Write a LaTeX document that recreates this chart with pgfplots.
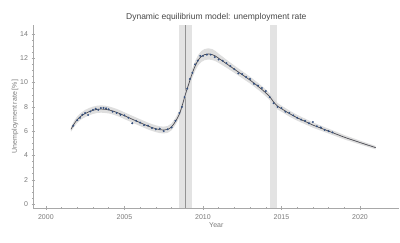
\documentclass[border=0pt]{standalone}
\usepackage{pgfplots}
\pgfplotsset{compat=1.18}
\usepackage{fontspec}
\setmainfont{Liberation Sans}
\definecolor{axgray}{HTML}{A8A8A8}
\definecolor{lblgray}{HTML}{7A7A7A}
\definecolor{bandgray}{HTML}{DADADA}
\definecolor{recgray}{HTML}{E3E3E3}
\definecolor{curvegray}{HTML}{4A4A52}
\definecolor{dotblue}{HTML}{34507F}
\begin{document}
\begin{tikzpicture}
\path[use as bounding box] (-33.3pt,-34pt) rectangle (366.7pt,208pt);
\begin{axis}[
  scale only axis, width=366pt, height=183pt,
  xmin=1999.2, xmax=2022.5, ymin=-0.33, ymax=14.74,
  axis lines*=left,
  axis line style={axgray, line width=0.5pt},
  every tick/.style={axgray, line width=0.4pt},
  tick align=center,
  major tick length=3.5pt, minor tick length=2pt,
  xtick={2000,2005,2010,2015,2020},
  ytick={0,2,4,6,8,10,12,14},
  minor x tick num=4, minor y tick num=3,
  xticklabel style={/pgf/number format/1000 sep={}},
  /pgf/number format/assume math mode=true,
  tick label style={font=\fontsize{7}{8}\selectfont, text=lblgray},
  xticklabel style={yshift=-1pt},
  xlabel={Year}, ylabel={Unemployment rate [\%]},
  label style={font=\fontsize{7}{8}\selectfont, text=lblgray},
  xlabel style={at={(axis description cs:0.5,0)}, anchor=center, yshift=-17pt},
  ylabel style={at={(axis description cs:0,0.5)}, anchor=center, yshift=18.3pt},
  title={Dynamic equilibrium model: unemployment rate},
  title style={font=\fontsize{8.5}{10}\selectfont, text=black!72, at={(axis description cs:0.5,1)}, anchor=center, yshift=2pt},
  clip=false,
]
% recession bands
\addplot[draw=none, fill=recgray] coordinates {(2008.49,-0.33) (2009.32,-0.33) (2009.32,14.74) (2008.49,14.74)} -- cycle;
\addplot[draw=none, fill=recgray] coordinates {(2014.25,-0.33) (2014.7,-0.33) (2014.7,14.74) (2014.25,14.74)} -- cycle;
\addplot[gray!85, line width=0.5pt] coordinates {(2008.86,-0.33) (2008.86,14.74)};
% confidence band
\addplot[draw=none, fill=bandgray, opacity=0.9] coordinates {
(2001.6,6.35) (2001.8,6.85) (2002.0,7.22) (2002.25,7.53) (2002.5,7.75) (2002.75,7.9) (2003.0,8.02) (2003.25,8.09) (2003.5,8.12) (2003.75,8.1) (2004.0,8.04) (2004.25,7.94) (2004.5,7.83) (2004.75,7.7) (2005.0,7.55) (2005.25,7.41) (2005.5,7.26) (2005.75,7.12) (2006.0,6.98) (2006.25,6.84) (2006.5,6.7) (2006.75,6.58) (2007.0,6.48) (2007.25,6.4) (2007.5,6.37) (2007.75,6.42) (2008.0,6.63) (2008.25,7.08) (2008.5,7.7) (2008.7,8.5) (2008.9,9.42) (2009.1,10.25) (2009.3,11.08) (2009.5,11.75) (2009.7,12.28) (2009.9,12.6) (2010.1,12.76) (2010.35,12.82) (2010.6,12.75) (2010.8,12.6) (2011.0,12.38) (2011.5,11.88) (2012.0,11.4) (2012.5,10.94) (2013.0,10.48) (2013.5,9.98) (2013.8,9.66) (2014.0,9.43) (2014.25,9.12) (2014.5,8.68) (2014.75,8.32) (2015.0,8.1) (2015.5,7.7) (2016.0,7.34) (2016.5,7.03) (2017.0,6.72) (2017.5,6.46) (2018.0,6.2) (2018.5,5.94) (2019.0,5.68) (2019.5,5.45) (2020.0,5.22) (2020.5,5.0) (2021.0,4.78)
(2021.0,4.5) (2020.5,4.7) (2020.0,4.9) (2019.5,5.11) (2019.0,5.32) (2018.5,5.56) (2018.0,5.8) (2017.5,6.04) (2017.0,6.28) (2016.5,6.57) (2016.0,6.86) (2015.5,7.2) (2015.0,7.6) (2014.75,7.78) (2014.5,8.12) (2014.25,8.56) (2014.0,8.87) (2013.8,9.1) (2013.5,9.42) (2013.0,9.92) (2012.5,10.36) (2012.0,10.8) (2011.5,11.22) (2011.0,11.62) (2010.8,11.76) (2010.6,11.85) (2010.35,11.9) (2010.1,11.84) (2009.9,11.7) (2009.7,11.42) (2009.5,10.95) (2009.3,10.32) (2009.1,9.55) (2008.9,8.78) (2008.7,7.9) (2008.5,7.1) (2008.25,6.52) (2008.0,6.07) (2007.75,5.86) (2007.5,5.81) (2007.25,5.84) (2007.0,5.92) (2006.75,6.02) (2006.5,6.14) (2006.25,6.28) (2006.0,6.42) (2005.75,6.56) (2005.5,6.7) (2005.25,6.85) (2005.0,6.99) (2004.75,7.14) (2004.5,7.27) (2004.25,7.38) (2004.0,7.46) (2003.75,7.5) (2003.5,7.52) (2003.25,7.49) (2003.0,7.42) (2002.75,7.3) (2002.5,7.15) (2002.25,6.97) (2002.0,6.68) (2001.8,6.35) (2001.6,5.95)
} -- cycle;
% model curve
\addplot[curvegray, line width=0.7pt, smooth] coordinates {
(2001.6,6.15) (2001.8,6.6) (2002.0,6.95) (2002.25,7.25) (2002.5,7.45) (2002.75,7.6) (2003.0,7.72) (2003.25,7.79) (2003.5,7.82) (2003.75,7.8) (2004.0,7.75) (2004.25,7.66) (2004.5,7.55) (2004.75,7.42) (2005.0,7.27) (2005.25,7.13) (2005.5,6.98) (2005.75,6.84) (2006.0,6.7) (2006.25,6.56) (2006.5,6.42) (2006.75,6.3) (2007.0,6.2) (2007.25,6.12) (2007.5,6.09) (2007.75,6.14) (2008.0,6.35) (2008.25,6.8) (2008.5,7.4) (2008.7,8.2) (2008.9,9.1) (2009.1,9.9) (2009.3,10.7) (2009.5,11.35) (2009.7,11.85) (2009.9,12.15) (2010.1,12.3) (2010.35,12.36) (2010.6,12.3) (2010.8,12.18) (2011.0,12.0) (2011.5,11.55) (2012.0,11.1) (2012.5,10.65) (2013.0,10.2) (2013.5,9.7) (2013.8,9.38) (2014.0,9.15) (2014.25,8.84) (2014.5,8.4) (2014.75,8.05) (2015.0,7.85) (2015.5,7.45) (2016.0,7.1) (2016.5,6.8) (2017.0,6.5) (2017.5,6.25) (2018.0,6.0) (2018.5,5.75) (2019.0,5.5) (2019.5,5.28) (2020.0,5.06) (2020.5,4.85) (2021.0,4.64)
};
% data
\addplot[only marks, mark=*, mark size=0.75pt, dotblue, mark options={draw=none, fill=dotblue}] coordinates {
(2001.75,6.45) (2002.0,6.9) (2002.17,7.1) (2002.33,7.35) (2002.5,7.5) (2002.69,7.33) (2002.83,7.62) (2003.0,7.75) (2003.17,7.85) (2003.33,7.75) (2003.5,7.9) (2003.67,7.92) (2003.83,7.88) (2004.0,7.8) (2004.25,7.6) (2004.5,7.5) (2004.75,7.35) (2005.0,7.3) (2005.25,7.1) (2005.5,6.65) (2005.75,6.85) (2006.0,6.7) (2006.25,6.5) (2006.5,6.45) (2006.75,6.25) (2007.0,6.15) (2007.25,6.2) (2007.5,6.0) (2007.75,6.15) (2008.0,6.3) (2008.25,6.85) (2008.5,7.5) (2008.67,8.0) (2008.83,8.8) (2009.0,9.5) (2009.17,10.3) (2009.33,10.8) (2009.5,11.5) (2009.67,11.8) (2009.83,12.2) (2010.0,12.2) (2010.25,12.3) (2010.5,12.3) (2010.75,12.1) (2011.0,11.9) (2011.25,11.8) (2011.5,11.6) (2011.75,11.35) (2012.0,11.1) (2012.25,10.75) (2012.5,10.7) (2012.75,10.45) (2013.0,10.3) (2013.25,9.9) (2013.5,9.75) (2013.75,9.55) (2014.0,9.3) (2014.25,8.8) (2014.5,8.3) (2014.75,8.0) (2015.0,7.9) (2015.25,7.6) (2015.5,7.5) (2015.75,7.3) (2016.0,7.1) (2016.25,6.95) (2016.5,6.85) (2016.75,6.65) (2017.0,6.75) (2017.25,6.4) (2017.5,6.3) (2017.75,6.1) (2018.0,6.0) (2018.25,5.9)
};
\end{axis}
\end{tikzpicture}
\end{document}
